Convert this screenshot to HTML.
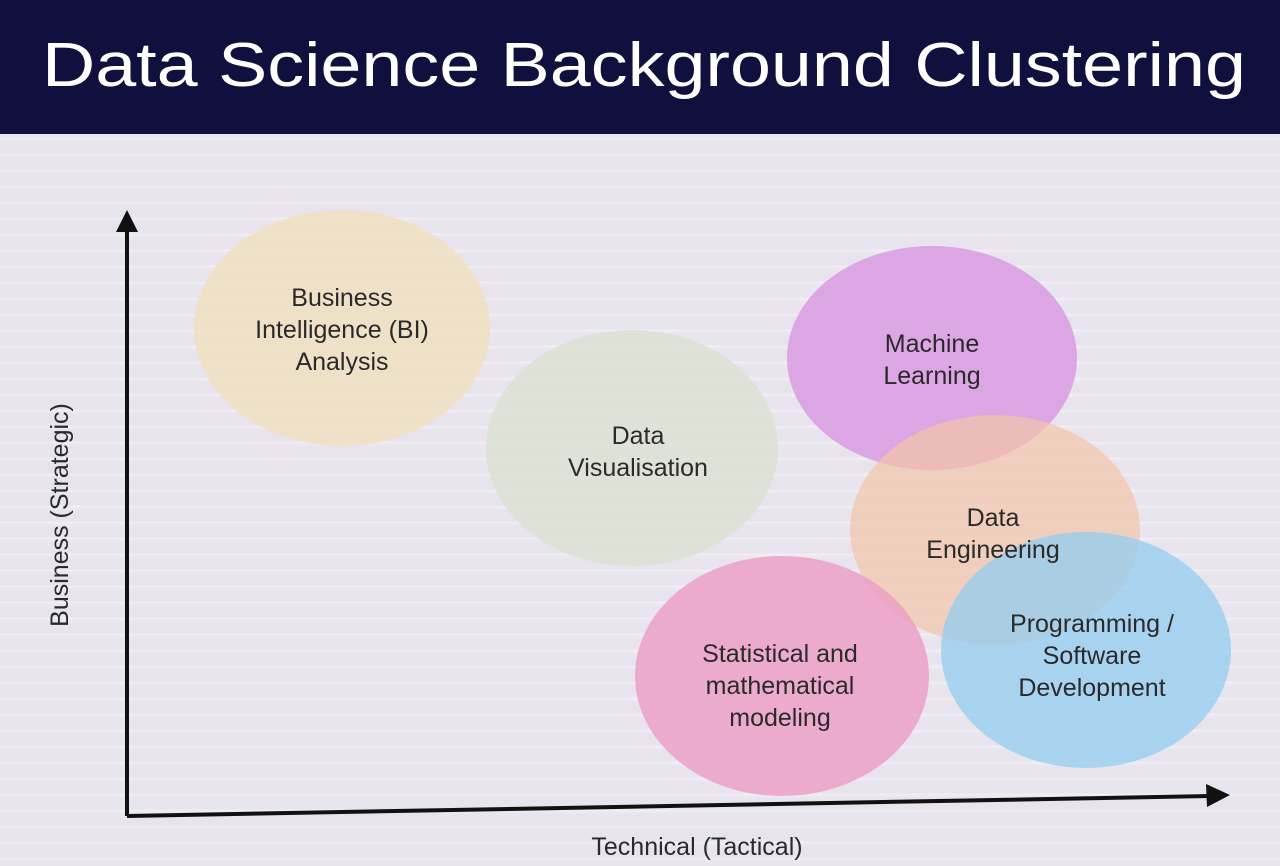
<!DOCTYPE html>
<html><head><meta charset="utf-8"><style>
html,body{margin:0;padding:0;width:1280px;height:866px;overflow:hidden;font-family:"Liberation Sans",sans-serif;}
body{background:repeating-linear-gradient(180deg,#e8e4ee 0px,#e8e4ee 9px,#f1eef4 10px,#ebe7f0 13px,#e8e4ee 16px);}
</style></head><body>
<svg width="1280" height="866" style="position:absolute;left:0;top:0">
<rect x="0" y="0" width="1280" height="134" fill="#10103e"/>
<text x="42" y="86" textLength="1204" lengthAdjust="spacingAndGlyphs" font-family="Liberation Sans, sans-serif" font-size="62" fill="#ffffff">Data Science Background Clustering</text>
<ellipse cx="342" cy="328" rx="148" ry="118" fill="#f0e0c0" opacity="0.85"/>
<ellipse cx="632" cy="448" rx="146" ry="118" fill="#dce0d2" opacity="0.85"/>
<ellipse cx="932" cy="358" rx="145" ry="112" fill="#d890e0" opacity="0.75"/>
<ellipse cx="995" cy="530" rx="145" ry="115" fill="#f4c4a8" opacity="0.7"/>
<ellipse cx="782" cy="676" rx="147" ry="120" fill="#ec9cc4" opacity="0.8"/>
<ellipse cx="1086" cy="650" rx="145" ry="118" fill="#92cdf0" opacity="0.75"/>
<line x1="127" y1="225" x2="127" y2="816" stroke="#111" stroke-width="4"/>
<polygon points="127,210 116,232 138,232" fill="#111"/>
<line x1="127" y1="816" x2="1210" y2="796" stroke="#111" stroke-width="4"/>
<polygon points="1230,795 1206,784 1207,807" fill="#111"/>
<g font-family="Liberation Sans, sans-serif" font-size="25" fill="#2a2a2a" text-anchor="middle">
<text x="342" y="306">Business</text><text x="342" y="338">Intelligence (BI)</text><text x="342" y="370">Analysis</text>
<text x="638" y="444">Data</text><text x="638" y="476">Visualisation</text>
<text x="932" y="352">Machine</text><text x="932" y="384">Learning</text>
<text x="993" y="526">Data</text><text x="993" y="558">Engineering</text>
<text x="780" y="662">Statistical and</text><text x="780" y="694">mathematical</text><text x="780" y="726">modeling</text>
<text x="1092" y="632">Programming /</text><text x="1092" y="664">Software</text><text x="1092" y="696">Development</text>
<text x="697" y="855">Technical (Tactical)</text>
<text transform="translate(68,515) rotate(-90)">Business (Strategic)</text>
</g>
</svg>
</body></html>
